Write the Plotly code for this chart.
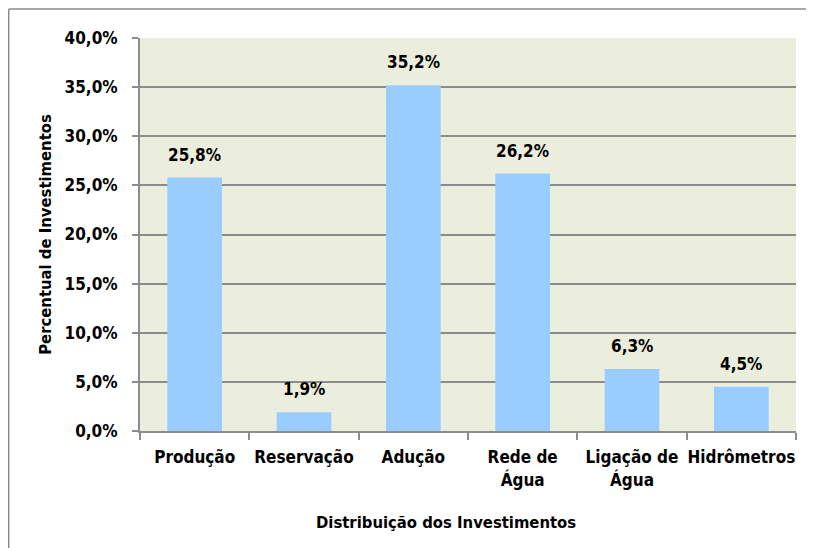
import plotly.graph_objects as go

categories = ["Produção", "Reservação", "Adução", "Rede de<br>Água", "Ligação de<br>Água", "Hidrômetros"]
values = [25.8, 1.9, 35.2, 26.2, 6.3, 4.5]
y_ticks = [0, 5, 10, 15, 20, 25, 30, 35, 40]

FONT = "DejaVu Sans Condensed, Roboto, sans-serif"

# the page body has an 8px margin, so page coordinates are offset by 8
OFF = 8
W, H = 814 - OFF, 548 - OFF
L, R, T, B = 140 - OFF, W - (796 - OFF), 38 - OFF, H - (431 - OFF)
pw, ph = W - L - R, H - T - B

fig = go.Figure(go.Bar(
    x=categories, y=values,
    marker=dict(color="#99CCFF", line=dict(width=0)),
    cliponaxis=False,
))

labels = [f"<b>{v:.1f}%</b>".replace(".", ",") for v in values]
annotations = [dict(x=c, y=v, text=t, showarrow=False, yanchor="bottom", yshift=11,
                    font=dict(family=FONT, size=17, color="#000000"))
               for c, v, t in zip(categories, values, labels)]
annotations.append(dict(xref="paper", yref="paper", x=(446 - 140) / pw, y=-(522 - 431) / ph,
                        xanchor="center", yanchor="middle", showarrow=False,
                        text="<b>Distribuição dos Investimentos</b>",
                        font=dict(family=FONT, size=16.5, color="#000000")))

bx0 = (0.7 - L) / pw
by1 = 1 + (T - 1) / ph
border = dict(color="#8C8C8C", width=1.5)
shapes = [
    dict(type="line", xref="paper", yref="paper", x0=bx0, x1=bx0, y0=by1, y1=-(H + 20 - (H - B)) / ph, line=border),
    dict(type="line", xref="paper", yref="paper", x0=bx0, x1=(W + 20 - L) / pw, y0=by1, y1=by1, line=border),
]

fig.update_layout(
    width=W, height=H,
    margin=dict(l=L, r=R, t=T, b=B, autoexpand=False),
    paper_bgcolor="white",
    plot_bgcolor="#ECEEDD",
    bargap=0.5,
    showlegend=False,
    font=dict(family=FONT, size=17, color="#000000"),
    annotations=annotations,
    shapes=shapes,
)

fig.update_xaxes(
    automargin=False, tickangle=0,
    showline=True, linecolor="#8C8C8C", linewidth=2,
    ticks="outside", ticklen=7, tickcolor="#8C8C8C", tickwidth=2,
    tickson="boundaries", ticklabelstandoff=10,
    tickfont=dict(family=FONT, size=17, color="#000000"),
    tickprefix="<b>", ticksuffix="</b>",
)
fig.update_yaxes(
    automargin=False,
    range=[0, 40], tickvals=y_ticks,
    ticktext=[f"<b>{v:.1f}%</b>".replace(".", ",") for v in y_ticks],
    showline=True, linecolor="#8C8C8C", linewidth=2,
    showgrid=True, gridcolor="#8C8C8C", gridwidth=2,
    ticks="outside", ticklen=6, tickcolor="#8C8C8C", tickwidth=2,
    ticklabelstandoff=11,
    tickfont=dict(family=FONT, size=17, color="#000000"),
    title=dict(text="<b>Percentual de Investimentos</b>", font=dict(family=FONT, size=16.5), standoff=9),
    zeroline=False,
)

fig.write_html("out.html")
